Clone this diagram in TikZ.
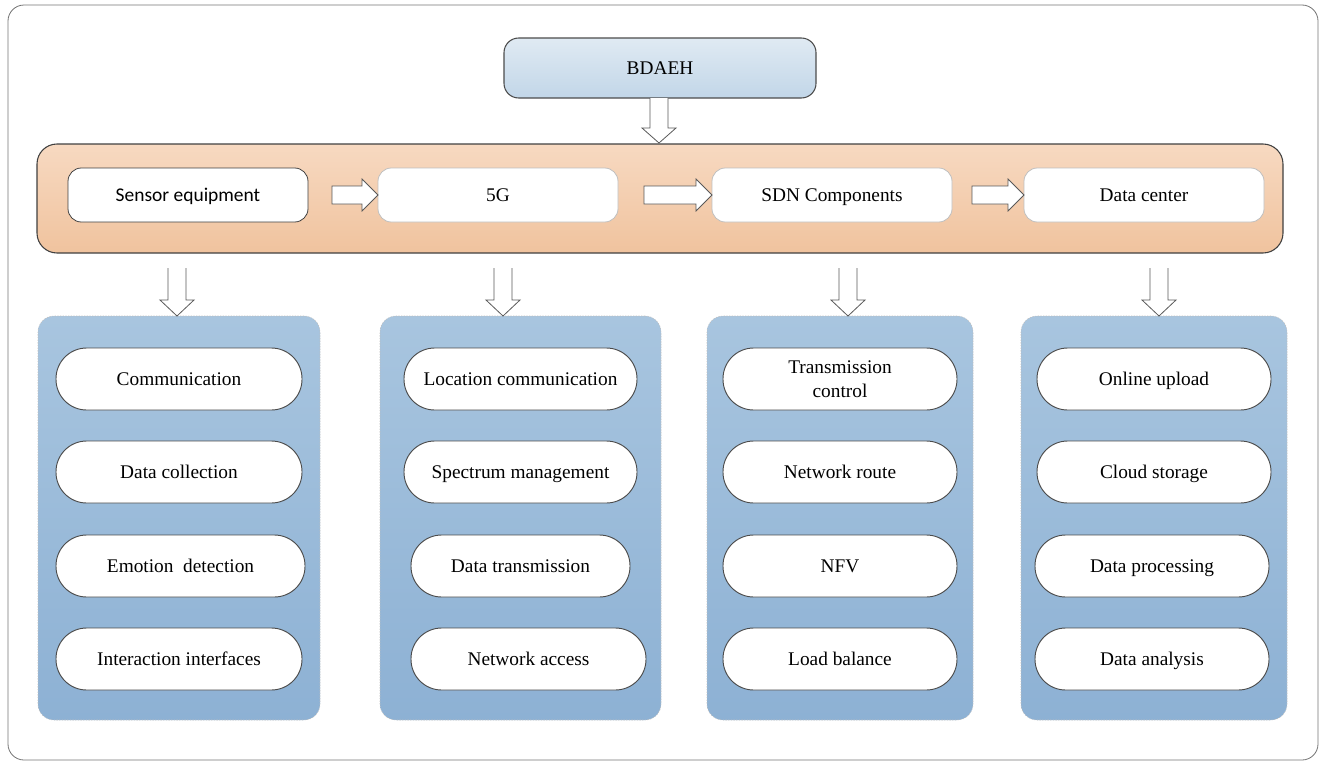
\documentclass[tikz,border=0pt]{standalone}
\usepackage{fontspec}
\setmainfont{Liberation Serif}
\newfontfamily\carlitofont{Carlito}
\usetikzlibrary{calc}
\newcommand\blockdown[4]{% center x, top y, head y, tip y (px)
  \filldraw[blockarrow] (#1-9,#2) -- (#1-9,#3) -- (#1-17,#3) -- (#1,#4) -- (#1+17,#3) -- (#1+9,#3) -- (#1+9,#2);}
\newcommand\blockright[4]{% center y, start x, head x, tip x (px)
  \filldraw[blockarrow] (#2,#1-9) -- (#3,#1-9) -- (#3,#1-16) -- (#4,#1) -- (#3,#1+16) -- (#3,#1+9) -- (#2,#1+9) -- cycle;}
\definecolor{topA}{RGB}{224,234,243}
\definecolor{topB}{RGB}{194,214,232}
\definecolor{bandA}{RGB}{247,217,193}
\definecolor{bandB}{RGB}{240,195,158}
\definecolor{panA}{RGB}{168,197,223}
\definecolor{panB}{RGB}{141,177,212}
\begin{document}
\begin{tikzpicture}[x=0.75pt,y=-0.75pt,
  oneline/.style={text height=11.5pt,text depth=1.7pt},
  blockarrow/.style={fill=white,draw=black!65,line width=0.6pt},
  topbox/.style={rectangle,rounded corners=11pt,draw=black!70,line width=0.8pt,top color=topA,bottom color=topB,minimum width=234pt,minimum height=45pt,oneline,font=\fontsize{14.5}{17}\selectfont},
  band/.style={rectangle,rounded corners=15pt,draw=black!75,line width=0.8pt,top color=bandA,bottom color=bandB,minimum width=934.5pt,minimum height=81.75pt},
  stagebox/.style={rectangle,rounded corners=10pt,fill=white,draw=black!25,line width=0.6pt,minimum width=180pt,minimum height=40.5pt,oneline,font=\fontsize{14.5}{17}\selectfont},
  panel/.style={rectangle,rounded corners=12pt,draw=black!25,dash pattern=on 1pt off 1pt,line width=0.4pt,top color=panA,bottom color=panB,minimum height=303pt},
  pill/.style={rectangle,rounded corners=23pt,fill=white,draw=black!70,line width=0.7pt,minimum height=46.5pt,align=center,oneline,font=\fontsize{14.5}{18}\selectfont}]
\useasboundingbox (0,0) rectangle (1321,764);
\draw[black!55,line width=0.6pt,rounded corners=12pt] (8,5) rectangle (1318,760);

% top
\node[topbox] (bdaeh) at (660,68) {BDAEH};
\node[band] (band) at (660,198.5) {};
\blockdown{659}{98}{128}{143}

% stage boxes
\node[stagebox,draw=black!75,font=\carlitofont\fontsize{14.6}{17}\selectfont] (sensor) at (188,195) {Sensor equipment};
\node[stagebox] (g5) at (498,195) {5G};
\node[stagebox] (sdn) at (832,195) {SDN Components};
\node[stagebox] (dc) at (1144,195) {Data center};
\blockright{195}{332}{362}{378}
\blockright{195}{644}{696}{712}
\blockright{195}{972}{1008}{1024}

% panels
\node[panel,minimum width=211.5pt] (p1) at (179,518) {};
\node[panel,minimum width=210.75pt] (p2) at (520.5,518) {};
\node[panel,minimum width=199.5pt] (p3) at (840,518) {};
\node[panel,minimum width=199.5pt] (p4) at (1154,518) {};
\blockdown{177}{268}{300}{316}
\blockdown{503}{268}{300}{316}
\blockdown{848}{268}{300}{316}
\blockdown{1159}{268}{300}{316}

% panel 1
\node[pill,minimum width=184.5pt] (a1) at (179,379) {Communication};
\node[pill,minimum width=184.5pt] (a2) at (179,472) {Data collection};
\node[pill,minimum width=186.75pt] (a3) at (180.5,566) {Emotion\ \ detection};
\node[pill,minimum width=184.5pt] (a4) at (179,659) {Interaction interfaces};
% panel 2
\node[pill,minimum width=174.75pt] (b1) at (520.5,379) {Location communication};
\node[pill,minimum width=174.75pt] (b2) at (520.5,472) {Spectrum management};
\node[pill,minimum width=164.25pt] (b3) at (520.5,566) {Data transmission};
\node[pill,minimum width=176.25pt] (b4) at (528.5,659) {Network access};
% panel 3
\node[pill,minimum width=175.5pt,text height=,text depth=] (c1) at (840,379) {Transmission\\control};
\node[pill,minimum width=175.5pt] (c2) at (840,472) {Network route};
\node[pill,minimum width=175.5pt] (c3) at (840,566) {NFV};
\node[pill,minimum width=175.5pt] (c4) at (840,659) {Load balance};
% panel 4
\node[pill,minimum width=175.5pt] (d1) at (1154,379) {Online upload};
\node[pill,minimum width=175.5pt] (d2) at (1154,472) {Cloud storage};
\node[pill,minimum width=175.5pt] (d3) at (1152,566) {Data processing};
\node[pill,minimum width=175.5pt] (d4) at (1152,659) {Data analysis};
\end{tikzpicture}
\end{document}
